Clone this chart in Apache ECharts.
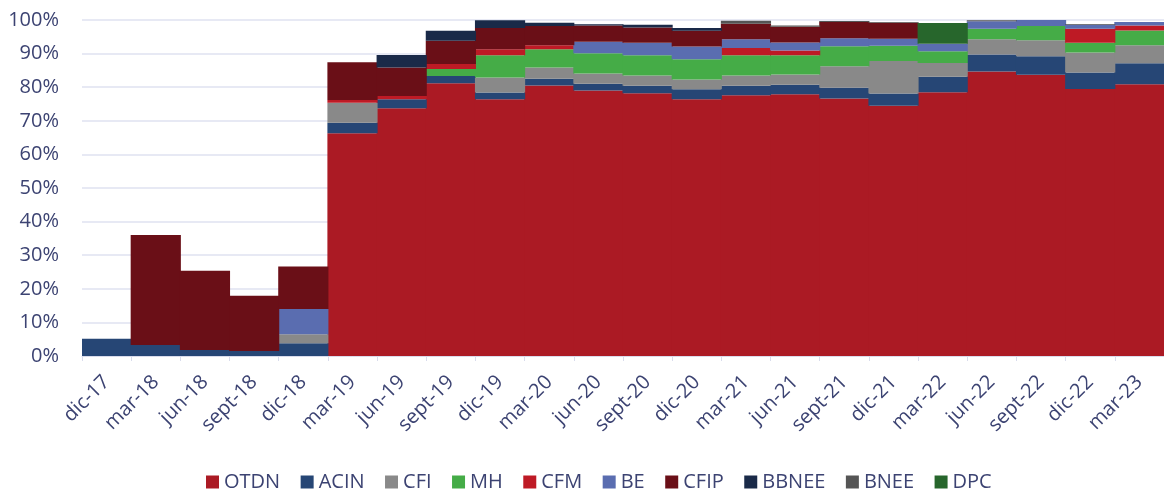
<!DOCTYPE html>
<html>
<head>
<meta charset="utf-8">
<script src="https://cdn.jsdelivr.net/npm/echarts@6/dist/echarts.min.js"></script>
<style>
html,body{margin:0;padding:0;background:#fff;}
#chart{width:1164px;height:491px;}
</style>
</head>
<body>
<div id="chart"></div>
<script>
const categories = ['dic-17','mar-18','jun-18','sept-18','dic-18','mar-19','jun-19','sept-19','dic-19','mar-20','jun-20','sept-20','dic-20','mar-21','jun-21','sept-21','dic-21','mar-22','jun-22','sept-22','dic-22','mar-23'];
const yTicks = [0,10,20,30,40,50,60,70,80,90,100];

const OTDN  = [0,0,0,0,0,66.3,73.7,81.2,76.4,80.5,79.0,78.2,76.4,77.6,77.9,76.6,74.5,78.5,84.7,83.7,79.5,80.9];
const ACIN  = [5.1,3.3,1.8,1.5,3.8,3.1,2.7,2.1,2.0,2.0,2.0,2.2,3.0,2.8,2.8,3.2,3.6,4.6,5.0,5.5,4.9,6.2];
const CFI   = [0,0,0,0,2.7,6.0,0,0,4.5,3.4,3.1,3.1,2.9,3.1,3.1,6.4,9.7,4.1,4.6,4.8,5.9,5.4];
const MH    = [0,0,0,0,0,0,0,2.1,6.6,5.4,6.0,6.0,6.0,6.0,5.7,6.0,4.5,3.5,3.1,4.2,2.9,4.4];
const CFM   = [0,0,0,0,0,0.8,1.0,1.5,1.8,1.2,0,0,0,2.2,1.4,0,0,0,0,0,4.2,1.5];
const BE    = [0,0,0,0,7.5,0,0,0,0,0,3.4,3.7,3.8,2.6,2.4,2.4,2.1,2.2,2.2,1.8,1.2,1.0];
const CFIP  = [0,32.7,23.6,16.4,12.6,11.2,8.5,6.9,6.3,5.7,4.9,4.6,4.7,4.6,4.7,4.8,4.8,0,0,0,0,0];
const BBNEE = [0,0,0,0,0,0,3.7,3.0,2.3,1.0,0.3,0.8,0.8,0,0,0,0,0,0,0,0,0];
const BNEE  = [0,0,0,0,0,0,0,0,0,0,0,0,0,0.9,0.4,0.3,0.2,0,0.3,0,0.2,0];
const DPC   = [0,0,0,0,0,0,0,0,0,0,0,0,0,0,0,0,0,6.2,0,0,0,0];

const seriesDefs = [
  ['OTDN', OTDN, '#ab1a24'],
  ['ACIN', ACIN, '#264675'],
  ['CFI', CFI, '#898989'],
  ['MH', MH, '#45ac47'],
  ['CFM', CFM, '#be1a25'],
  ['BE', BE, '#5a6db0'],
  ['CFIP', CFIP, '#6a0f17'],
  ['BBNEE', BBNEE, '#1a2a48'],
  ['BNEE', BNEE, '#555555'],
  ['DPC', DPC, '#27662c']
];

const textColor = '#3c4372';
const font = '"Open Sans", "Noto Sans", sans-serif';

const chart = echarts.init(document.getElementById('chart'), null, {renderer:'canvas'});
chart.setOption({
  animation: false,
  backgroundColor: '#ffffff',
  grid: {left: 82, right: 0, top: 20, bottom: 135, containLabel: false},
  legend: {
    data: seriesDefs.map(s => s[0]),
    left: 201, top: 467,
    icon: 'rect', itemWidth: 13, itemHeight: 13, itemGap: 20.5,
    textStyle: {color: textColor, fontSize: 20, fontFamily: font}
  },
  xAxis: {
    type: 'category',
    data: categories,
    boundaryGap: true,
    axisLine: {lineStyle: {color: '#d9dcec'}},
    axisTick: {show: true, alignWithLabel: false, length: 5, lineStyle: {color: '#d9dcec'}},
    axisLabel: {rotate: 45, color: textColor, fontSize: 20, fontFamily: font, margin: 23, interval: 0},
    splitLine: {show: false},
    splitArea: {show: false}
  },
  yAxis: {
    type: 'value',
    min: yTicks[0], max: yTicks[yTicks.length-1], interval: 10,
    axisLine: {show: false},
    axisTick: {show: false},
    axisLabel: {color: textColor, fontSize: 20, fontFamily: font, margin: 23, formatter: '{value}%'},
    splitLine: {lineStyle: {color: '#dfe2f0', width: 1.5}}
  },
  series: seriesDefs.map(([name, data, color]) => ({
    name, type: 'bar', stack: 'total',
    data: data.map(v => v === 0 ? '-' : v),
    barWidth: 50.2, barGap: '0%',
    itemStyle: {color},
    emphasis: {disabled: true}
  }))
});
</script>
</body>
</html>
